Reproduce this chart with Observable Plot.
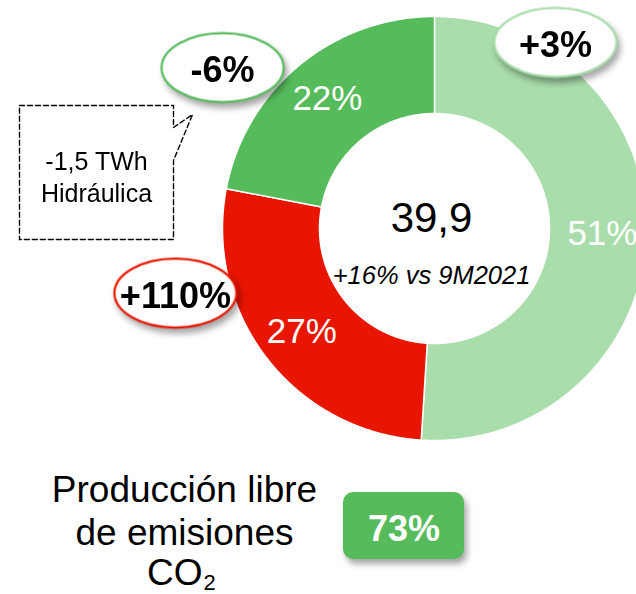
<!DOCTYPE html>
<html>
<head>
<meta charset="utf-8">
<script src="https://cdn.jsdelivr.net/npm/d3@7"></script>
<script src="https://cdn.jsdelivr.net/npm/@observablehq/plot@0.6"></script>
<style>
  html, body { margin: 0; padding: 0; background: #fff; overflow: hidden; }
  #chart { width: 636px; height: 594px; overflow: hidden; }
</style>
</head>
<body>
<div id="chart"></div>
<script>
// ---------- data ----------
const categories   = ["Nuclear", "Térmica", "Renovables"];
const shares       = [51, 27, 22];
const changes      = ["+3%", "+110%", "-6%"];
const sliceColors  = ["#A9DDAB", "#E81500", "#55BB5B"];
const emissionFree = ["Nuclear", "Renovables"];
const totalLabel   = "39,9";
const growthLabel  = "+16% vs 9M2021";
const calloutText  = ["-1,5 TWh", "Hidráulica"];
const footerLines  = ["Producción libre", "de emisiones"];

// ---------- layout ----------
const W = 636, H = 594;
const CX = 434, CY = 228, R_OUT = 212, R_IN = 115, R_LABEL = 168;
const FONT = "Liberation Sans, Arial, Helvetica, sans-serif";
const bubbleAt = {Nuclear: {angle: 33, r: 222}, "Térmica": {angle: 256, r: 267}, Renovables: {angle: 307.2, r: 266}};
const calloutBox = {x1: 19, x2: 173, y1: 105, y2: 239, notch1: 127, notch2: 160, tipX: 192, tipY: 114};
const greenBox = {x1: 343, x2: 464, y1: 492, y2: 559};

const rows = categories.map((cat, i) => ({cat, share: shares[i], change: changes[i]}));
const arcs = d3.pie().sort(null).value(d => d.share)(rows);
const rad = deg => deg * Math.PI / 180;
const polar = (a, r) => [CX + r * Math.sin(a), CY - r * Math.cos(a)];

// slice outlines sampled from pie angles
const slicePts = [];
for (const a of arcs) {
  const n = Math.ceil((a.endAngle - a.startAngle) / rad(0.25));
  const pts = [];
  for (let k = 0; k <= n; k++) pts.push(polar(a.startAngle + (a.endAngle - a.startAngle) * k / n, R_OUT));
  for (let k = n; k >= 0; k--) pts.push(polar(a.startAngle + (a.endAngle - a.startAngle) * k / n, R_IN));
  pts.push(pts[0]);
  for (const [x, y] of pts) slicePts.push({cat: a.data.cat, x, y});
}

const sliceLabels = arcs.map(a => {
  const [x, y] = polar((a.startAngle + a.endAngle) / 2, R_LABEL);
  return {x, y, text: a.data.share + "%"};
});

const bubbles = rows.map(d => {
  const b = bubbleAt[d.cat];
  const [x, y] = polar(rad(b.angle), b.r);
  return {x, y, cat: d.cat, text: d.change};
});

const ellipse = {
  draw(ctx) {
    const a = 61, b = 34.5, k = 0.5523;
    ctx.moveTo(a, 0);
    ctx.bezierCurveTo(a, b * k, a * k, b, 0, b);
    ctx.bezierCurveTo(-a * k, b, -a, b * k, -a, 0);
    ctx.bezierCurveTo(-a, -b * k, -a * k, -b, 0, -b);
    ctx.bezierCurveTo(a * k, -b, a, -b * k, a, 0);
    ctx.closePath();
  }
};

const cb = calloutBox;
const calloutPath = [
  [cb.x1, cb.y1], [cb.x2, cb.y1], [cb.x2, cb.notch1], [cb.tipX, cb.tipY],
  [cb.x2, cb.notch2], [cb.x2, cb.y2], [cb.x1, cb.y2], [cb.x1, cb.y1]
].map(([x, y]) => ({x, y}));

const freeShare = d3.sum(rows.filter(d => emissionFree.includes(d.cat)), d => d.share);
const shadow = "drop-shadow(3px 5px 3px rgba(0,0,0,0.35))";

const chart = Plot.plot({
  width: W, height: H,
  margin: 0,
  style: {fontFamily: FONT, background: "#fff", overflow: "hidden"},
  x: {domain: [0, W], range: [0, W], axis: null},
  y: {domain: [0, H], range: [0, H], axis: null},
  color: {domain: categories, range: sliceColors},
  marks: [
    Plot.line(slicePts, {x: "x", y: "y", z: "cat", fill: "cat", stroke: "white", strokeWidth: 1.5, curve: "linear"}),
    Plot.text(sliceLabels, {x: "x", y: "y", text: "text", fill: "white", fontSize: 35, fontFamily: FONT}),
    Plot.text([totalLabel], {x: CX - 3, y: 218.5, text: d => d, fill: "black", fontSize: 42, fontFamily: FONT}),
    Plot.text([growthLabel], {x: CX - 3, y: 275, text: d => d, fill: "black", fontSize: 25.5, fontStyle: "italic", fontFamily: FONT}),
    Plot.dot(bubbles, {x: "x", y: "y", r: 1, symbol: ellipse, fill: "white", stroke: "cat", strokeWidth: 2.2, imageFilter: shadow}),
    Plot.text(bubbles, {x: "x", y: "y", dy: 3, text: "text", fill: "black", fontSize: 36, fontWeight: "bold", fontFamily: FONT}),
    Plot.line(calloutPath, {x: "x", y: "y", stroke: "black", strokeWidth: 1.4, strokeDasharray: "5,3", curve: "linear"}),
    Plot.text([calloutText.join("\n")], {x: (cb.x1 + cb.x2) / 2, y: 175, text: d => d, fill: "black", fontSize: 25, lineHeight: 1.28, fontFamily: FONT}),
    Plot.rect([greenBox], {x1: "x1", x2: "x2", y1: "y1", y2: "y2", fill: sliceColors[2], rx: 10, imageFilter: shadow}),
    Plot.text([freeShare + "%"], {x: (greenBox.x1 + greenBox.x2) / 2, y: (greenBox.y1 + greenBox.y2) / 2, dy: 3, text: d => d, fill: "white", fontSize: 36, fontWeight: "bold", fontFamily: FONT}),
    Plot.text([footerLines.join("\n")], {x: 184, y: 471.5, text: d => d, lineAnchor: "top", fill: "black", fontSize: 37, lineHeight: 1.16, fontFamily: FONT}),
    Plot.text(["CO"], {x: 202, y: 572.4, text: d => d, textAnchor: "end", fill: "black", fontSize: 37, fontFamily: FONT}),
    Plot.text(["2"], {x: 203, y: 582, text: d => d, textAnchor: "start", fill: "black", fontSize: 22, fontFamily: FONT})
  ]
});
document.getElementById("chart").appendChild(chart);
</script>
</body>
</html>
